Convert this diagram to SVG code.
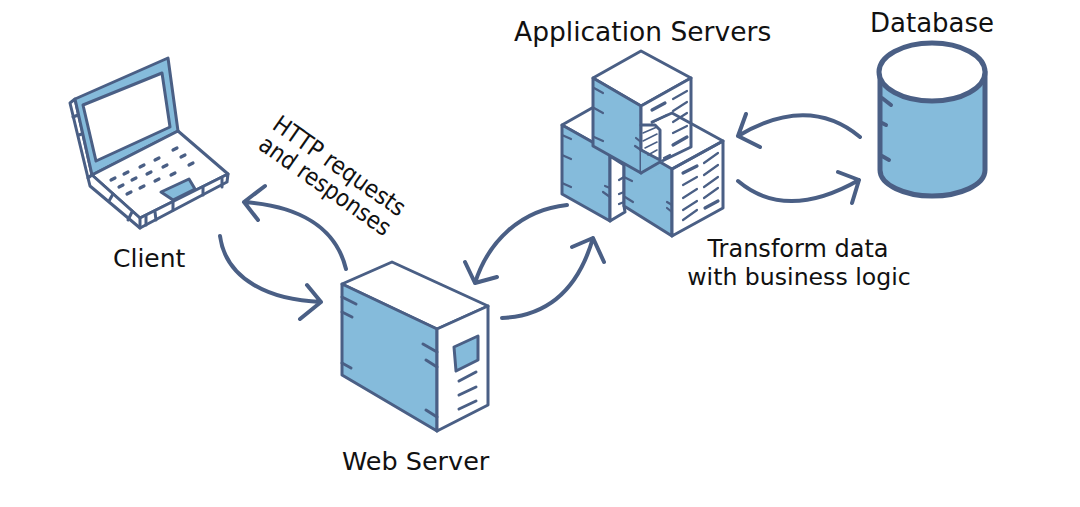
<svg xmlns="http://www.w3.org/2000/svg" width="1080" height="507" viewBox="0 0 1080 507">
<style>
text{font-family:"DejaVu Sans",Verdana,sans-serif;font-size:24px;fill:#111}
.l{fill:none;stroke:#4a5f85;stroke-width:3;stroke-linecap:round;stroke-linejoin:round}
.w{fill:#fff;stroke:#4a5f85;stroke-width:3;stroke-linejoin:round}
.b{fill:#85bbdb;stroke:#4a5f85;stroke-width:3;stroke-linejoin:round}
.t{fill:none;stroke:#4a5f85;stroke-width:2.2;stroke-linecap:round}
.h{fill:none;stroke:#4a5f85;stroke-width:1.6;stroke-linecap:round}
.k{fill:none;stroke:#4a5f85;stroke-width:3.2;stroke-linecap:round}
.a{fill:none;stroke:#4a5f85;stroke-width:4;stroke-linecap:round;stroke-linejoin:round}
.n{fill:#85bbdb;stroke:none}
</style>
<rect width="1080" height="507" fill="#fff"/>
<g id="client">
<path class="w" d="M70 103L75 99L92 175L88 178Z"/>
<path class="l" d="M73 117L78 115M79 135L84 133"/>
<path class="b" d="M75 99L168 58L178 131L92 175Z"/>
<path class="w" d="M83 105L162 73L170 127L96 161Z"/>
<path class="w" d="M92 175L178 131L228 174L140 218Z"/>
<path class="w" d="M88 178L92 175L140 218L228 174L227 182L140 228L90 186Z"/>
<path class="l" d="M140 218V228M146 216V225M155 212L156 220M173 202V210M203 187V195M222 178V187M113 194L109 201M132 212L128 220"/>
<path class="b" d="M161 192L189 179L195 189L173 200Z"/>
<path class="k" d="M173 150L177 148M155 160L159 158M140 167L144 165M124 174L128 172M111 180L115 178M181 157L185 155M163 167L167 165M147 174L151 172M132 180L136 178M119 187L123 185M189 165L193 163M171 175L175 173M155 181L159 179M140 188L144 186M127 194L131 192"/>
</g>
<g id="application-servers">
<path class="w" d="M592 108L562 125L610 152L640 130Z"/>
<path class="b" d="M562 125L610 152V221L562 194Z"/>
<path class="w" d="M610 156L624 165V206L625 212L610 221Z"/>
<path class="t" d="M562 135L571 139M562 155L571 159M562 183L571 187M605 186L610 188M603 192L610 197M619 180L624 177M619 194L624 192M619 204L624 202"/>
<path class="n" d="M624 155L672 169V236L624 206Z"/>
<path class="l" d="M624 155V206L672 236V169"/>
<path class="w" d="M672 169L723 141V208L672 236Z"/>
<path class="t" d="M624 177L632 181M625 197L633 202M667 202L672 205M667 208L672 212"/>
<path class="t" d="M683 185L697 177M683 198L697 189M683 210L697 201M683 220L697 210M704 163L718 153M704 175L718 165M704 187L718 177M704 198L718 188"/>
<path class="k" d="M683 173L697 166M705 208L718 201"/>
<path class="w" d="M641 51L691 78L641 106L593 78Z"/>
<path class="b" d="M593 78L641 106V173L593 146Z"/>
<path class="w" d="M641 106L691 78V147L660 162L641 150Z"/>
<path class="n" d="M641 150L660 160L672 169L641 173Z"/>
<path class="l" d="M641 125L655 125L660 130V160L641 150M641 173L660 162L672 169M652 122L672 113L723 141L672 169"/>
<path class="t" d="M594 88L603 93M594 108L603 113M594 137L603 141M636 138L641 142M635 146L641 150"/>
<path class="t" d="M673 99L687 91M673 111L687 102M673 122L687 113M673 133L687 126M653 122L667 115M664 158L670 155"/>
<path class="h" d="M643 133L657 127M643 141L657 134M645 148L657 142M648 155L657 150"/>
<path class="k" d="M652 110L665 103M673 145L687 137"/>
</g>
<g id="database">
<path class="b" style="stroke-width:5" d="M880 72V170C880 185 905 196 932 196C960 196 985 185 985 170V72Z"/>
<ellipse cx="932" cy="72" rx="53" ry="29" fill="#fff" stroke="#4a5f85" stroke-width="5"/>
<path class="a" d="M882 98L891 105M882 123L886 125M882 156L889 160"/>
</g>
<g id="web-server">
<path class="w" d="M392 262L342 284L437 329L488 306Z"/>
<path class="b" d="M342 284L437 329V431L342 375Z"/>
<path class="w" d="M437 329L488 306V405L437 431Z"/>
<path class="b" d="M454 347L478 336V360L456 371Z"/>
<path class="l" d="M342 297L356 304M342 312L352 317M342 363L351 368M423 344L437 352M426 360L437 367M426 410L437 417"/>
<path class="l" d="M459 381L476 372M459 395L476 387M459 409L476 401"/>
</g>
<g id="connectors">
<path class="a" d="M346 269C336 228 300 206 244 202M265 186L244 202L258 220"/>
<path class="a" d="M220 236C226 280 270 300 321 302M307 285L321 302L300 319"/>
<path class="a" d="M567 205C520 210 488 242 475 283M465 262L475 283L497 277"/>
<path class="a" d="M502 318C548 316 578 290 593 238M572 247L593 238L604 262"/>
<path class="a" d="M860 137C825 108 785 108 738 136M746 114L738 136L760 147"/>
<path class="a" d="M738 181C770 208 810 208 859 180M838 172L859 180L852 203"/>
</g>
<g id="labels">
<text x="514" y="41" style="font-size:26.5px">Application Servers</text>
<text x="870" y="32" style="font-size:26px">Database</text>
<text x="113" y="267" style="font-size:25px">Client</text>
<text x="342" y="470" style="font-size:25.5px">Web Server</text>
<text x="798" y="257" text-anchor="middle">Transform data</text>
<text x="799" y="285" text-anchor="middle" style="font-size:23.6px">with business logic</text>
<text transform="translate(271 128) rotate(35) scale(.9 1)" style="font-size:24px">HTTP requests</text>
<text transform="translate(257 148) rotate(35) scale(.89 1)" style="font-size:24px">and responses</text>
</g>
</svg>
